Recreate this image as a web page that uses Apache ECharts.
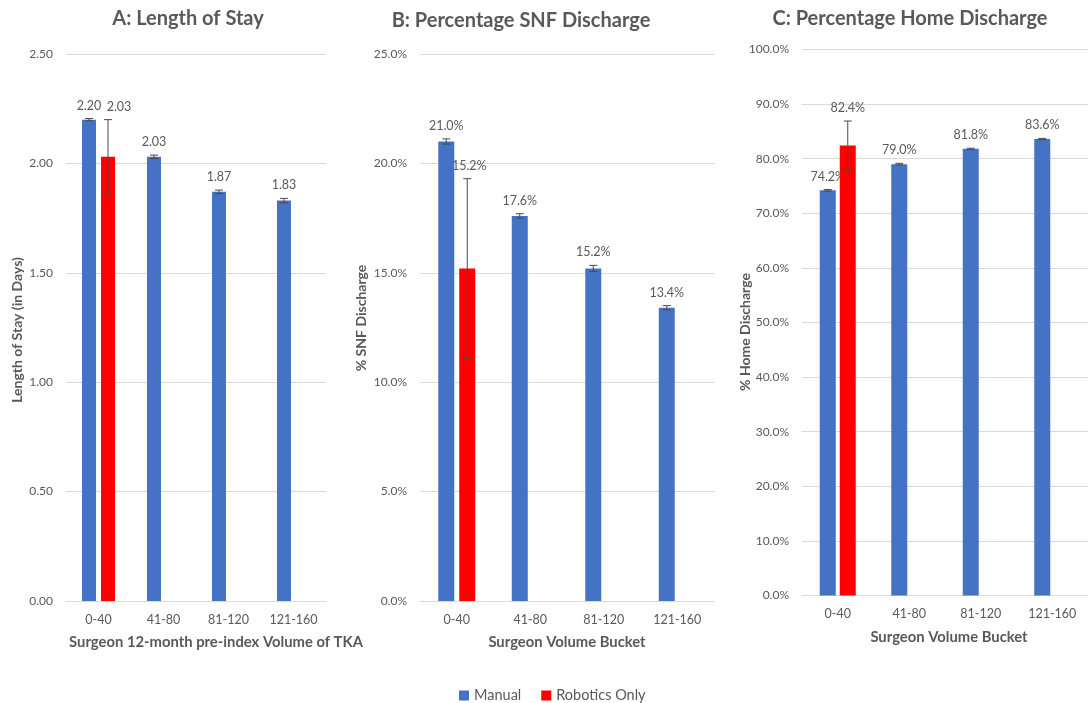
<!DOCTYPE html>
<html>
<head>
<meta charset="utf-8">
<title>Surgeon volume outcomes</title>
<script src="https://cdn.jsdelivr.net/npm/echarts@6/dist/echarts.min.js"></script>
<style>
  html, body { margin: 0; padding: 0; background: #ffffff; }
  #chart { width: 1088px; height: 703px; }
</style>
</head>
<body>
<div id="chart"></div>
<script>
// Surgeon volume buckets (12-month pre-index TKA volume)
const categories = ['0-40', '41-80', '81-120', '121-160'];

// A: Length of stay (days)
const losManual = [2.20, 2.03, 1.87, 1.83];
const losManualErr = [0.005, 0.008, 0.008, 0.01];
const losRobotics = [2.03, null, null, null];
const losRoboticsErr = [0.17, null, null, null];

// B: SNF discharge (%)
const snfManual = [21.0, 17.6, 15.2, 13.4];
const snfManualErr = [0.12, 0.1, 0.14, 0.1];
const snfRobotics = [15.2, null, null, null];
const snfRoboticsErr = [4.1, null, null, null];

// C: Home discharge (%)
const homeManual = [74.2, 79.0, 81.8, 83.6];
const homeManualErr = [0.15, 0.15, 0.12, 0.12];
const homeRobotics = [82.4, null, null, null];
const homeRoboticsErr = [4.5, null, null, null];

// Value axis ranges
const losAxis = { min: 0, max: 2.5, interval: 0.5 };
const snfAxis = { min: 0, max: 25, interval: 5 };
const homeAxis = { min: 0, max: 100, interval: 10 };

const seriesNames = ['Manual', 'Robotics Only'];
const BLUE = '#4472C4';
const RED = '#FF0000';
const TEXT = '#595959';
const GRID = '#D9D9D9';
const FONT = 'Lato, "Open Sans", sans-serif';

const fmtDays = v => v.toFixed(2);
const fmtPct = v => v.toFixed(1) + '%';

const panels = [
  { grid: { left: 66, top: 54, width: 260, height: 547 }, axis: losAxis, fmt: fmtDays,
    manual: losManual, manualErr: losManualErr, robotics: losRobotics, roboticsErr: losRoboticsErr,
    barWidth: 14, gap: 5, roboticsLabelDx: 11 },
  { grid: { left: 420, top: 54, width: 294, height: 547 }, axis: snfAxis, fmt: fmtPct,
    manual: snfManual, manualErr: snfManualErr, robotics: snfRobotics, roboticsErr: snfRoboticsErr,
    barWidth: 16, gap: 5, roboticsLabelDx: 2 },
  { grid: { left: 802, top: 49.5, width: 294, height: 546 }, axis: homeAxis, fmt: fmtPct,
    manual: homeManual, manualErr: homeManualErr, robotics: homeRobotics, roboticsErr: homeRoboticsErr,
    barWidth: 16, gap: 4, roboticsLabelDx: 0 }
];

const option = {
  animation: false,
  backgroundColor: '#ffffff',
  textStyle: { fontFamily: FONT },
  grid: [],
  xAxis: [],
  yAxis: [],
  series: [],
  legend: {
    data: seriesNames,
    left: 454,
    top: 683,
    itemWidth: 10,
    itemHeight: 10,
    itemGap: 20,
    icon: 'rect',
    textStyle: { color: TEXT, fontSize: 14.5, fontFamily: FONT }
  },
  graphic: []
};

// error-bar + value-label tuples: [categoryIndex, value, error, side]
function errorData(values, errs, side) {
  const out = [];
  values.forEach((v, i) => {
    if (v != null) out.push([i, v, errs[i], side]);
  });
  return out;
}

panels.forEach((p, k) => {
  option.grid.push(Object.assign({ containLabel: false }, p.grid));
  option.xAxis.push({
    type: 'category', gridIndex: k, data: categories,
    axisTick: { show: false },
    axisLine: { lineStyle: { color: GRID, width: 1 } },
    axisLabel: { color: TEXT, fontSize: 12.5, margin: 12, fontFamily: FONT }
  });
  option.yAxis.push({
    type: 'value', gridIndex: k,
    min: p.axis.min, max: p.axis.max, interval: p.axis.interval,
    axisLine: { show: false }, axisTick: { show: false },
    splitLine: { lineStyle: { color: GRID, width: 1 } },
    axisLabel: { color: TEXT, fontSize: 12, margin: 13, fontFamily: FONT,
      formatter: v => p.fmt(v) }
  });

  const shift = (p.barWidth + p.gap) / 2;
  const gapPct = Math.round(p.gap / p.barWidth * 100) + '%';

  // value labels sit above the error bar, beneath the bars
  option.series.push({
    type: 'custom', xAxisIndex: k, yAxisIndex: k, z: 1, silent: true,
    data: errorData(p.manual, p.manualErr, -1).concat(errorData(p.robotics, p.roboticsErr, 1)),
    renderItem: (params, api) => {
      const i = api.value(0), v = api.value(1), e = api.value(2), side = api.value(3);
      const top = api.coord([i, v + e]);
      const dx = side > 0 ? p.roboticsLabelDx : 0;
      return {
        type: 'text',
        style: {
          x: top[0] + side * shift + dx, y: top[1] - 13,
          text: p.fmt(v), textAlign: 'center', textVerticalAlign: 'middle',
          fill: TEXT, font: '12.5px ' + FONT
        }
      };
    }
  });

  option.series.push({
    type: 'bar', name: seriesNames[0], xAxisIndex: k, yAxisIndex: k, z: 2,
    data: p.manual, barWidth: p.barWidth, barGap: gapPct,
    itemStyle: { color: BLUE }
  });
  option.series.push({
    type: 'bar', name: seriesNames[1], xAxisIndex: k, yAxisIndex: k, z: 2,
    data: p.robotics, barWidth: p.barWidth, barGap: gapPct,
    itemStyle: { color: RED }
  });

  // error bars drawn over the bars
  option.series.push({
    type: 'custom', xAxisIndex: k, yAxisIndex: k, z: 3, silent: true,
    data: errorData(p.manual, p.manualErr, -1).concat(errorData(p.robotics, p.roboticsErr, 1)),
    renderItem: (params, api) => {
      const i = api.value(0), v = api.value(1), e = api.value(2), side = api.value(3);
      const top = api.coord([i, v + e]);
      const bot = api.coord([i, v - e]);
      const x = top[0] + side * shift;
      const cap = 4;
      const st = { stroke: '#4a4a4a', lineWidth: 1 };
      return {
        type: 'group',
        children: [
          { type: 'line', shape: { x1: x, y1: top[1], x2: x, y2: bot[1] }, style: st },
          { type: 'line', shape: { x1: x - cap, y1: top[1], x2: x + cap, y2: top[1] }, style: st },
          { type: 'line', shape: { x1: x - cap, y1: bot[1], x2: x + cap, y2: bot[1] }, style: st }
        ]
      };
    }
  });
});

// Panel titles and axis titles
const titles = [
  { text: 'A: Length of Stay', x: 188, y: 19 },
  { text: 'B: Percentage SNF Discharge', x: 521, y: 21 },
  { text: 'C: Percentage Home Discharge', x: 910, y: 19 }
];
titles.forEach(t => option.graphic.push({
  type: 'text', silent: true,
  style: { x: t.x, y: t.y, text: t.text, textAlign: 'center', textVerticalAlign: 'middle',
    fill: TEXT, font: 'bold 20px ' + FONT }
}));

const xTitles = [
  { text: 'Surgeon 12-month pre-index Volume of TKA', x: 216, y: 642 },
  { text: 'Surgeon Volume Bucket', x: 567, y: 642 },
  { text: 'Surgeon Volume Bucket', x: 949, y: 637 }
];
xTitles.forEach(t => option.graphic.push({
  type: 'text', silent: true,
  style: { x: t.x, y: t.y, text: t.text, textAlign: 'center', textVerticalAlign: 'middle',
    fill: TEXT, font: 'bold 14.8px ' + FONT }
}));

const yTitles = [
  { text: 'Length of Stay (in Days)', x: 17, y: 330 },
  { text: '% SNF Discharge', x: 361, y: 318 },
  { text: '% Home Discharge', x: 745, y: 332 }
];
yTitles.forEach(t => option.graphic.push({
  type: 'text', silent: true,
  x: t.x, y: t.y, rotation: Math.PI / 2,
  style: { x: 0, y: 0, text: t.text, textAlign: 'center', textVerticalAlign: 'middle',
    fill: TEXT, font: 'bold 14px ' + FONT }
}));

const chart = echarts.init(document.getElementById('chart'), null, { renderer: 'canvas' });
chart.setOption(option);
</script>
</body>
</html>
